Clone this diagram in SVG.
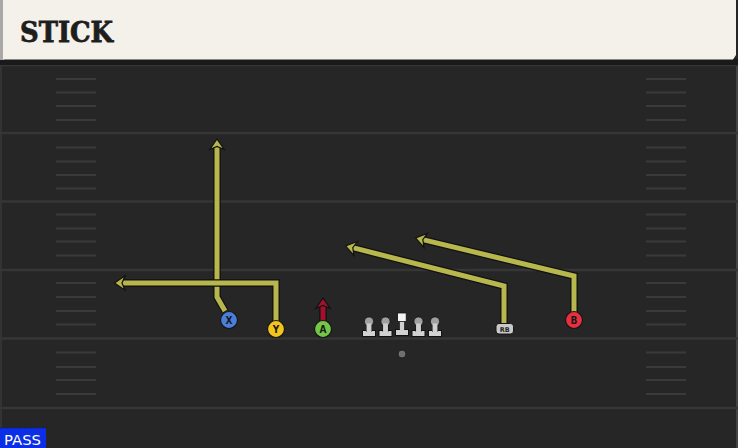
<svg xmlns="http://www.w3.org/2000/svg" width="738" height="448" viewBox="0 0 738 448">
<defs>
<style>
.fl{stroke:#363636;stroke-width:2.5;fill:none}
.hm{stroke:#3a3a3a;stroke-width:2;fill:none}
.ro{stroke:#111;stroke-width:7.5;fill:none;stroke-linejoin:miter}
.ry{stroke:#b7b74e;stroke-width:5;fill:none;stroke-linejoin:miter}
.rr{stroke:#a3102c;stroke-width:5;fill:none}
.hy{fill:#b7b74e;stroke:#111;stroke-width:1.2;stroke-linejoin:miter}
.hr{fill:#a3102c;stroke:#111;stroke-width:1.2;stroke-linejoin:miter}
.pl{stroke:#151515;stroke-width:1.2}
.lt{font-family:"DejaVu Sans Condensed","DejaVu Sans",sans-serif;font-weight:bold;font-size:10px;fill:#1a1a1a;text-anchor:middle}
.ln{fill:#d2d2d2;stroke:#111;stroke-width:1}
</style>
<path id="ah" d="M0,0 L-10.5,-7.2 L-7.5,0 L-10.5,7.2 z"/>
<g id="lineman">
<rect x="-6.5" y="9" width="13" height="6" class="ln"/>
<rect x="-2.5" y="0" width="5" height="10" fill="#cfcfcf" stroke="#111" stroke-width="0.8"/>
<circle cx="0" cy="0" r="4.6" fill="#a0a0a0" stroke="#111" stroke-width="0.8"/>
<rect x="-2.4" y="2" width="4.8" height="8.5" fill="#cfcfcf"/>
<rect x="-2" y="9.5" width="4" height="2" fill="#d2d2d2"/>
</g>
</defs>

<rect width="738" height="448" fill="#262626"/>
<rect x="0" y="59" width="2" height="389" fill="#333"/>
<rect x="736" y="59" width="2" height="389" fill="#444"/>

<g id="field">
<line class="fl" x1="0" y1="65" x2="738" y2="65"/>
<line class="fl" x1="0" y1="133" x2="738" y2="133"/>
<line class="fl" x1="0" y1="201.5" x2="738" y2="201.5"/>
<line class="fl" x1="0" y1="270" x2="738" y2="270"/>
<line class="fl" x1="0" y1="338.5" x2="738" y2="338.5"/>
<line class="fl" x1="0" y1="408" x2="738" y2="408"/>
<path class="hm" d="M56,79H96M56,92.5H96M56,106H96M56,120H96M56,147.5H96M56,161.5H96M56,175H96M56,188.5H96M56,214.5H96M56,228.5H96M56,241.5H96M56,255.5H96M56,283H96M56,297H96M56,311H96M56,324.5H96M56,352.5H96M56,367H96M56,380H96M56,394H96"/>
<path class="hm" d="M646,79H686M646,92.5H686M646,106H686M646,120H686M646,147.5H686M646,161.5H686M646,175H686M646,188.5H686M646,214.5H686M646,228.5H686M646,241.5H686M646,255.5H686M646,283H686M646,297H686M646,311H686M646,324.5H686M646,352.5H686M646,367H686M646,380H686M646,394H686"/>
</g>

<g id="header">
<rect x="0" y="59" width="738" height="6" fill="#1a1a1a"/>
<rect x="0" y="0" width="4" height="60" fill="#a8a8a8"/>
<path d="M3,0 H736 V55 L733,59.5 H3 z" fill="#f4f1ea"/>
<text x="20" y="42" font-family="'DejaVu Serif',serif" font-weight="bold" font-size="27" fill="#1e1e1e" stroke="#1e1e1e" stroke-width="0.8" textLength="93" lengthAdjust="spacingAndGlyphs">STICK</text>
</g>

<g id="connectors">
<path class="ro" d="M225,311 L217,297 L217,146"/>
<path class="ry" d="M225,311 L217,297 L217,146"/>
<use href="#ah" class="hy" transform="translate(217,139) rotate(-90)"/>
<path class="ro" d="M276,322 L276,283 L122,283"/>
<path class="ry" d="M276,322 L276,283 L122,283"/>
<use href="#ah" class="hy" transform="translate(114.5,283) rotate(180)"/>
<path class="ro" d="M504,324 L504,286 L352.8,247.7"/>
<path class="ry" d="M504,324 L504,286 L352.8,247.7"/>
<use href="#ah" class="hy" transform="translate(345.5,245.9) rotate(194.2)"/>
<path class="ro" d="M574,314 L574,276 L422.8,239.6"/>
<path class="ry" d="M574,314 L574,276 L422.8,239.6"/>
<use href="#ah" class="hy" transform="translate(415.5,237.9) rotate(193.5)"/>
<path class="ro" d="M323,321 L323,305"/>
<path class="rr" d="M323,321 L323,305"/>
<use href="#ah" class="hr" transform="translate(323,298) rotate(-90)"/>
</g>

<g id="X"><circle class="pl" cx="229" cy="320" r="8.5" fill="#4a7edb"/><text class="lt" x="229" y="323.8">X</text></g>
<g id="Y"><circle class="pl" cx="276" cy="329" r="8.5" fill="#f3c41c"/><text class="lt" x="276" y="332.8">Y</text></g>
<g id="A"><circle class="pl" cx="323" cy="329" r="8.5" fill="#74c646"/><text class="lt" x="323" y="332.8">A</text></g>
<g id="B"><circle class="pl" cx="574" cy="320" r="8.5" fill="#e5303f"/><text class="lt" x="574" y="323.8">B</text></g>
<g id="RB"><rect x="496" y="323.5" width="17.5" height="10.5" rx="3" fill="#c9c9c9" stroke="#151515" stroke-width="1"/><text x="504.7" y="331.5" font-family="'DejaVu Sans',sans-serif" font-weight="bold" font-size="6.5" fill="#222" text-anchor="middle">RB</text></g>

<g id="LT"><use href="#lineman" x="369" y="321.5"/></g>
<g id="LG"><use href="#lineman" x="385.5" y="321.5"/></g>
<g id="C"><rect x="399.5" y="319" width="5" height="11" fill="#cfcfcf" stroke="#111" stroke-width="0.8"/><rect x="395.5" y="329.5" width="13" height="6" class="ln"/><rect x="399.9" y="320" width="4.2" height="10.5" fill="#cfcfcf"/><rect x="397.6" y="313" width="8.6" height="8.6" fill="#f4f4f4" stroke="#111" stroke-width="0.8"/></g>
<g id="RG"><use href="#lineman" x="418.5" y="321.5"/></g>
<g id="RT"><use href="#lineman" x="435" y="321.5"/></g>
<g id="ball"><circle cx="402" cy="354" r="4" fill="#707070" stroke="#111" stroke-width="0.8"/></g>

<g id="pass">
<rect x="0" y="428" width="46" height="20" fill="#0b2ee6"/>
<line x1="0" y1="428" x2="46" y2="428" stroke="#0a1a80" stroke-width="1" stroke-dasharray="1.5,1.5"/>
<text x="4" y="444.5" font-family="'DejaVu Sans',sans-serif" font-size="14.5" fill="#ffffff" textLength="37" lengthAdjust="spacingAndGlyphs">PASS</text>
</g>
</svg>
